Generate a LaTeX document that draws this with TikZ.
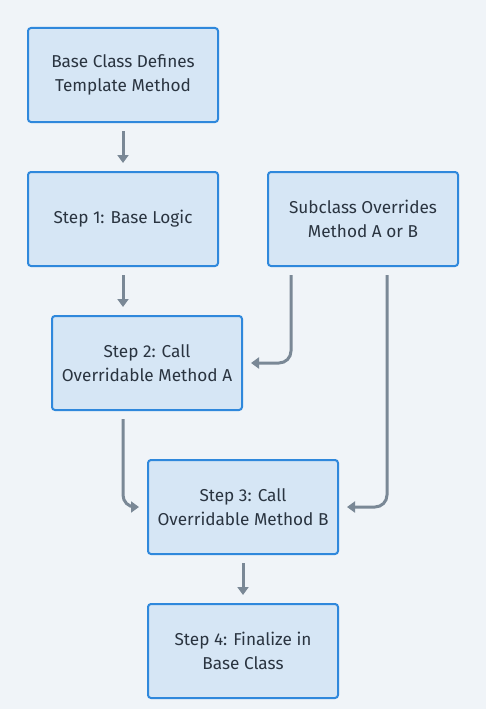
\documentclass[tikz,border=0pt]{standalone}
\usepackage{fontspec}
\setmainfont{Fira Sans}
\usetikzlibrary{arrows.meta,positioning}
\definecolor{bg}{HTML}{F0F4F8}
\definecolor{boxfill}{HTML}{D6E6F5}
\definecolor{boxline}{HTML}{2F88DC}
\definecolor{arrowc}{HTML}{7A8896}
\definecolor{txt}{HTML}{2A3440}
\tikzset{
  stepbox/.style={draw=boxline, fill=boxfill, line width=2pt, rounded corners=3pt,
    minimum width=190pt, minimum height=94pt, align=center, text=txt,
    font=\fontsize{17.2}{24}\selectfont, inner sep=0pt},
  conn/.style={draw=arrowc, line width=3pt, rounded corners=12pt,
    -{Triangle[width=11pt,length=8pt]}}
}
\begin{document}
\begin{tikzpicture}[x=1pt,y=-1pt]
\useasboundingbox[fill=bg] (0,0) rectangle (486,709);
\node[stepbox] (b1) at (123,75) {Base Class Defines\\Template Method};
\node[stepbox] (b2) at (123,219) {Step 1: Base Logic};
\node[stepbox] (sub) at (363,219) {Subclass Overrides\\Method A or B};
\node[stepbox] (b3) at (147,363) {Step 2: Call\\Overridable Method A};
\node[stepbox] (b4) at (243,507) {Step 3: Call\\Overridable Method B};
\node[stepbox] (b5) at (243,651) {Step 4: Finalize in\\Base Class};
\draw[conn] ([yshift=-8pt]b1.south) -- ([yshift=8pt]b2.north);
\draw[conn] ([yshift=-8pt]b2.south) -- ([yshift=8pt]b2.south |- b3.north);
\draw[conn] ([shift={(-72pt,-8pt)}]sub.south) |- ([xshift=8pt]b3.east);
\draw[conn] ([shift={(24pt,-8pt)}]sub.south) |- ([xshift=8pt]b4.east);
\draw[conn] ([yshift=-8pt]b2.south |- b3.south) |- ([xshift=-8pt]b4.west);
\draw[conn] ([yshift=-8pt]b4.south) -- ([yshift=8pt]b5.north);
\end{tikzpicture}
\end{document}
